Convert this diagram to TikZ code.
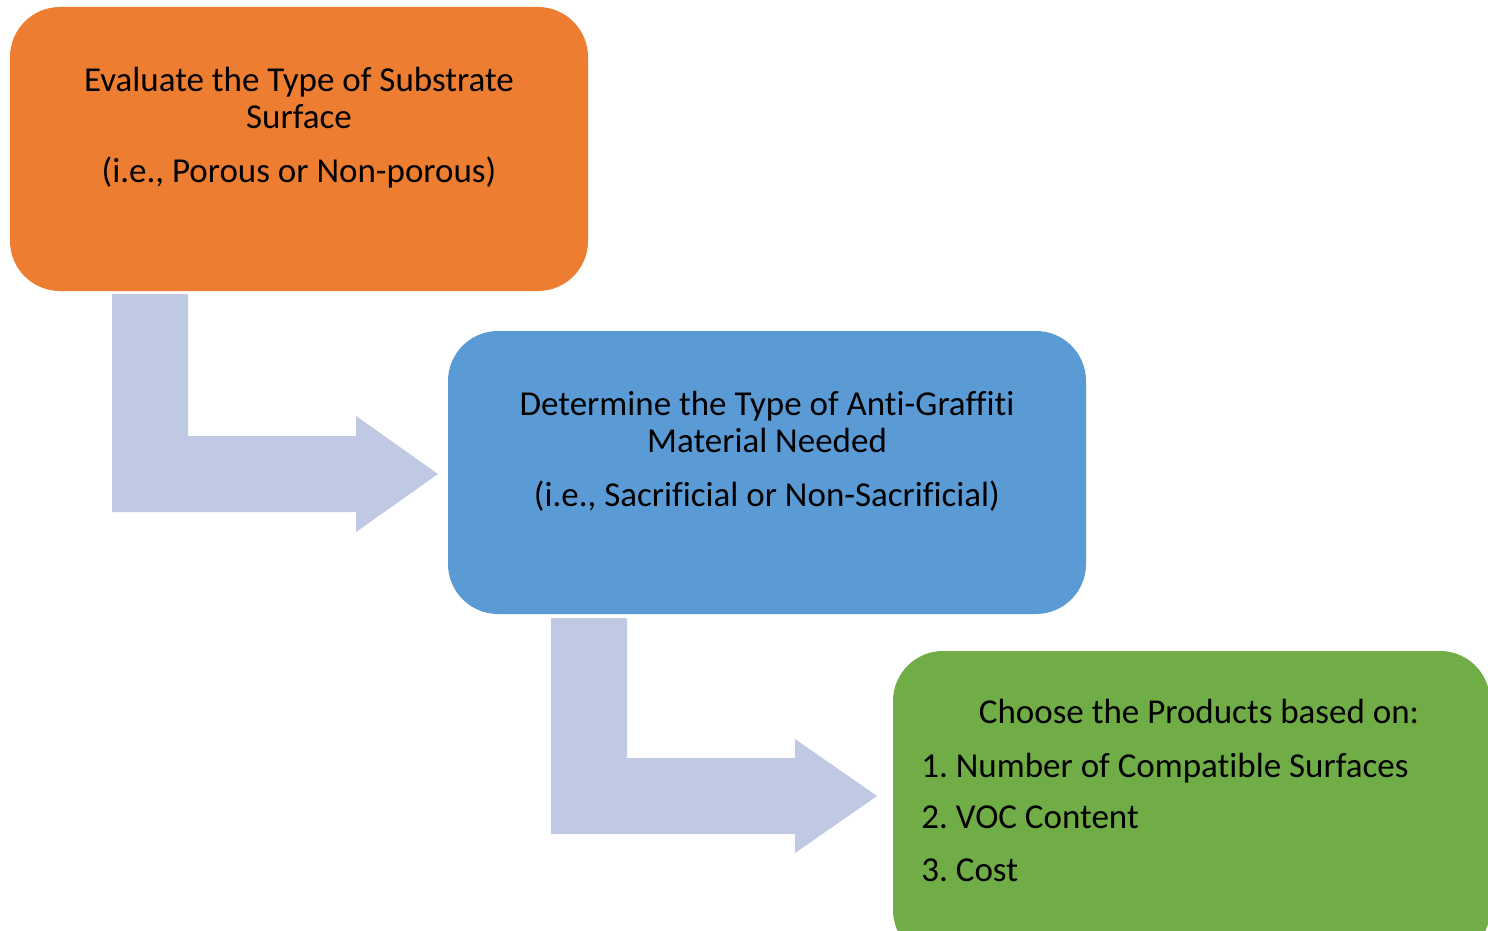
\documentclass[tikz,border=0pt]{standalone}
\usepackage{fontspec}
\setmainfont[Ligatures=NoCommon]{Carlito}
\frenchspacing
\definecolor{orangebox}{HTML}{ED7D31}
\definecolor{bluebox}{HTML}{5B9BD5}
\definecolor{greenbox}{HTML}{70AD47}
\definecolor{arrowfill}{HTML}{BFC9E3}
\begin{document}
\begin{tikzpicture}[x=0.5pt,y=-0.5pt,
  box/.style={rounded corners=25pt, inner sep=0pt},
  txt/.style={anchor=base, inner sep=0pt, font=\fontsize{17.5}{21}\selectfont},
  bigarrow/.style={fill=arrowfill, draw=none}]
\useasboundingbox (0,0) rectangle (1488,931);
\clip (0,0) rectangle (1488,931);
% boxes
\path[box, fill=orangebox] (10,7) rectangle (588,291);
\path[box, fill=bluebox] (448,331) rectangle (1086,614);
\path[box, fill=greenbox] (893,651) rectangle (1490,960);
% texts
\node[txt] (o1) at (299,91) {Evaluate the Type of Substrate};
\node[txt] (o2) at (299,128) {Surface};
\node[txt] (o3) at (299,182) {(i.e., Porous or Non-porous)};
\node[txt] (b1) at (767,415) {Determine the Type of Anti-Graffiti};
\node[txt] (b2) at (767,452) {Material Needed};
\node[txt] (b3) at (767,506) {(i.e., Sacrificial or Non-Sacrificial)};
\node[txt] (g1) at (1199,723) {Choose the Products based on:};
\node[txt, anchor=base west] (g2) at (921,777) {1. Number of Compatible Surfaces};
\node[txt, anchor=base west] (g3) at (921,828) {2. VOC Content};
\node[txt, anchor=base west] (g4) at (921,881) {3. Cost};
% bent arrows
\fill[bigarrow] (112,294) -- (188,294) -- (188,436) -- (356,436) -- (356,416)
  -- (438,474) -- (356,532) -- (356,512) -- (112,512) -- cycle;
\fill[bigarrow] (551,618) -- (627,618) -- (627,758) -- (795,758) -- (795,739)
  -- (877,796) -- (795,853) -- (795,834) -- (551,834) -- cycle;
\end{tikzpicture}
\end{document}
